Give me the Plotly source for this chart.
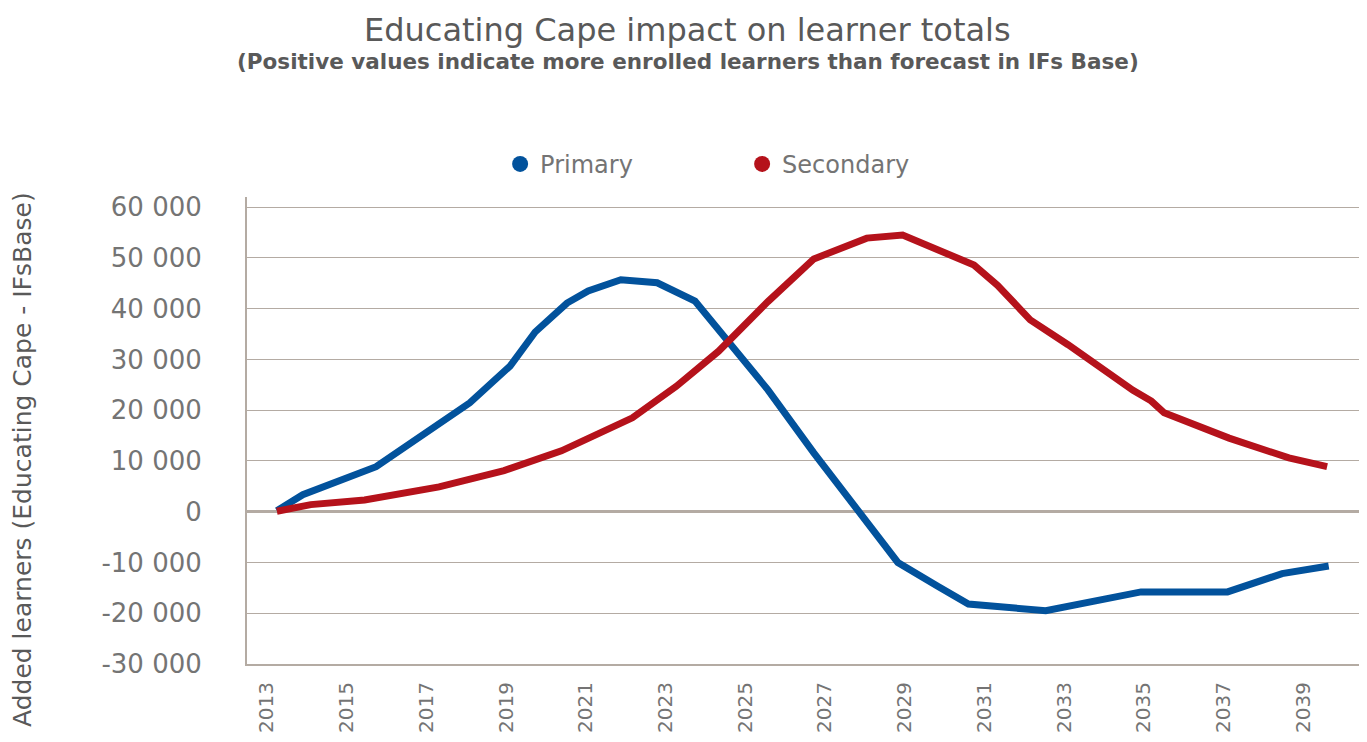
import plotly.graph_objects as go

# ---- data ----
primary_years = [2013.25, 2013.90, 2015.74, 2017.37, 2018.09, 2019.10, 2019.73, 2020.53,
                 2021.06, 2021.88, 2022.79, 2023.74, 2025.57, 2026.72, 2028.83, 2029.83,
                 2030.60, 2032.54, 2034.93, 2037.10, 2038.47, 2039.64]
primary = [200, 3350, 8860, 17500, 21450, 28700, 35400, 41100,
           43500, 45700, 45100, 41500, 24000, 11600, -10000, -14700,
           -18200, -19500, -15800, -15800, -12200, -10700]

secondary_years = [2013.25, 2014.10, 2015.45, 2017.32, 2018.95, 2020.39, 2022.17, 2023.27,
                   2024.33, 2025.57, 2026.72, 2028.05, 2028.95, 2030.74, 2031.33, 2032.15,
                   2033.10, 2034.73, 2035.19, 2035.51, 2037.14, 2038.64, 2039.60]
secondary = [100, 1400, 2300, 4900, 8100, 12000, 18500, 24700,
             31600, 41400, 49800, 53900, 54500, 48600, 44600, 37800,
             32900, 23900, 21800, 19500, 14500, 10600, 8900]

x_ticks = list(range(2013, 2040, 2))
x_tick_labels = [str(y) for y in x_ticks]
y_ticks = list(range(-30000, 60001, 10000))
y_tick_labels = [f"{v:,}".replace(",", " ") for v in y_ticks]

series_names = ["Primary", "Secondary"]
colors = ["#02529C", "#B5121B"]

GRID = "#B4ABA3"
TXT = "#595959"
TXT_LIGHT = "#747474"
FONT = "DejaVu Sans"

fig = go.Figure()
for name, xs, ys, c in zip(series_names, [primary_years, secondary_years],
                           [primary, secondary], colors):
    fig.add_trace(go.Scatter(x=xs, y=ys, mode="lines", name=name,
                             line=dict(color=c, width=7), showlegend=False))
    fig.add_trace(go.Scatter(x=[None], y=[None], mode="markers", name=name,
                             marker=dict(color=c, size=16), showlegend=True))

# page body has an 8px margin, so the figure is sized/offset to compensate
fig.update_layout(
    width=1359, height=734,
    margin=dict(l=239, r=4, t=189, b=78),
    paper_bgcolor="white", plot_bgcolor="white",
    font=dict(family=FONT, color=TXT),
    showlegend=True,
    legend=dict(orientation="h", x=0.2268, xanchor="left", y=1.07, yanchor="middle",
                font=dict(size=24, color=TXT_LIGHT, family=FONT),
                entrywidth=197, entrywidthmode="pixels", itemwidth=30,
                bgcolor="rgba(0,0,0,0)"),
    annotations=[
        dict(text="Educating Cape impact on learner totals", xref="paper", yref="paper",
             x=0.395, y=(664 - 30) / 467, xanchor="center", yanchor="middle", showarrow=False,
             font=dict(size=32, color=TXT, family=FONT)),
        dict(text="(Positive values indicate more enrolled learners than forecast in IFs Base)",
             xref="paper", yref="paper",
             x=0.395, y=(664 - 61) / 467, xanchor="center", yanchor="middle", showarrow=False,
             font=dict(size=21.5, color=TXT, family=FONT, weight=700)),
        dict(text="Added learners (Educating Cape - IFsBase)", xref="paper", yref="paper",
             x=(22 - 247) / 1116, y=(664 - 460) / 467, xanchor="center", yanchor="middle",
             textangle=-90, showarrow=False,
             font=dict(size=25, color=TXT, family=FONT)),
    ],
)

fig.update_xaxes(
    range=[2012.5, 2040.5], tickmode="array", tickvals=x_ticks, ticktext=x_tick_labels,
    tickangle=-90, tickfont=dict(size=20, color=TXT_LIGHT, family=FONT),
    showgrid=False, zeroline=False, showline=True, linecolor=GRID, linewidth=2,
    ticks="", ticklabelstandoff=8, automargin=False,
)
fig.update_yaxes(
    range=[-30000, 62000], tickmode="array", tickvals=y_ticks, ticktext=y_tick_labels,
    tickfont=dict(size=26, color=TXT_LIGHT, family=FONT),
    showgrid=True, gridcolor=GRID, gridwidth=1,
    zeroline=True, zerolinecolor=GRID, zerolinewidth=2.5,
    showline=True, linecolor=GRID, linewidth=2, ticks="", ticklabelstandoff=38,
    automargin=False,
)

fig.write_html("out.html")
